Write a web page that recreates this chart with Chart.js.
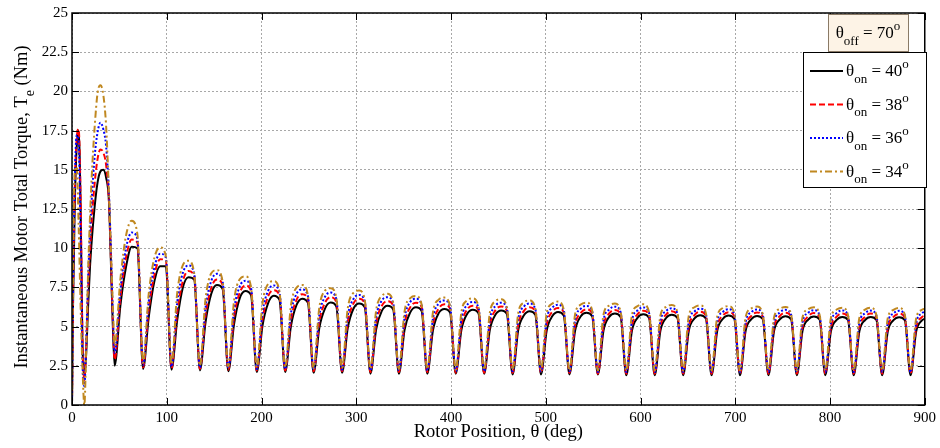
<!DOCTYPE html>
<html>
<head>
<meta charset="utf-8">
<script src="https://cdn.jsdelivr.net/npm/chart.js@4.4.0/dist/chart.umd.min.js"></script>
<style>
  html, body { margin: 0; padding: 0; background: #fff; }
  #wrap { width: 940px; height: 448px; }
</style>
</head>
<body>
<div id="wrap"><canvas id="torqueChart" width="940" height="448"></canvas></div>
<script>
const rotorDeg = [
  0, 1, 3, 5, 7, 9, 11, 13, 15, 17, 19, 21, 24, 27, 30, 33, 36, 39, 41, 43, 45,
  51, 57, 63, 69, 75,   81, 87, 93, 99, 105,   111, 117, 123, 129, 135,
  141, 147, 153, 159, 165,   171, 177, 183, 189, 195,   201, 207, 213, 219, 225,
  231, 237, 243, 249, 255,   261, 267, 273, 279, 285,   291, 297, 303, 309, 315,
  321, 327, 333, 339, 345,   351, 357, 363, 369, 375,   381, 387, 393, 399, 405,
  411, 417, 423, 429, 435,   441, 447, 453, 459, 465,   471, 477, 483, 489, 495,
  501, 507, 513, 519, 525,   531, 537, 543, 549, 555,   561, 567, 573, 579, 585,
  591, 597, 603, 609, 615,   621, 627, 633, 639, 645,   651, 657, 663, 669, 675,
  681, 687, 693, 699, 705,   711, 717, 723, 729, 735,   741, 747, 753, 759, 765,
  771, 777, 783, 789, 795,   801, 807, 813, 819, 825,   831, 837, 843, 849, 855,
  861, 867, 873, 879, 885,   891, 897, 900
];

// theta_on = 40 deg
const torque40 = [
  0, 6, 13, 16.5, 17.5, 13, 4, 2.0, 3.3, 6.3, 8.8, 10.6, 12.7, 14.2, 14.9, 15.0, 14.5, 13.0, 9.2, 5.2, 2.5,
  6.3, 8.8, 10.1, 10.0, 2.3,   5.6, 7.9, 8.85, 8.85, 2.25,   5.4, 7.5, 8.15, 8.0, 2.2,
  5.3, 7.1, 7.65, 7.4, 2.15,   5.14, 6.8, 7.27, 7.0, 2.1,   5.04, 6.5, 6.97, 6.7, 2.1,
  5.0, 6.38, 6.78, 6.52, 2.05,   4.9, 6.15, 6.53, 6.28, 2.05,   4.9, 6.14, 6.48, 6.23, 2.0,
  4.83, 6.0, 6.33, 6.09, 2.0,   4.8, 5.91, 6.23, 6.0, 2.0,   4.78, 5.86, 6.13, 5.9, 2.0,
  4.79, 5.81, 6.08, 5.85, 2.0,   4.8, 5.77, 6.03, 5.8, 1.95,   4.79, 5.72, 5.98, 5.76, 1.95,
  4.75, 5.67, 5.93, 5.71, 1.95,   4.75, 5.66, 5.88, 5.66, 1.95,   4.76, 5.62, 5.83, 5.61, 1.9,
  4.75, 5.57, 5.78, 5.57, 1.9,   4.73, 5.55, 5.76, 5.55, 1.9,   4.75, 5.52, 5.73, 5.52, 1.9,
  4.73, 5.5, 5.7, 5.5, 1.9,   4.75, 5.48, 5.68, 5.48, 1.9,   4.74, 5.46, 5.66, 5.46, 1.9,
  4.73, 5.45, 5.64, 5.45, 1.9,   4.71, 5.43, 5.62, 5.43, 1.9,   4.7, 5.42, 5.61, 5.42, 1.9,
  4.7, 5.41, 5.6, 5.41, 1.9,   4.7, 5.4, 5.5
];

// theta_on = 38 deg
const torque38 = [
  0, 6.5, 14, 17.0, 17.6, 13.5, 4.5, 1.6, 3.8, 7.3, 9.8, 11.9, 14.2, 15.7, 16.3, 16.1, 15.3, 13.0, 9.5, 5.5, 2.9,
  6.8, 9.4, 10.55, 10.35, 2.4,   6.1, 8.3, 9.3, 9.2, 2.35,   5.9, 7.9, 8.55, 8.2, 2.3,
  5.75, 7.48, 8.0, 7.64, 2.25,   5.6, 7.16, 7.62, 7.27, 2.2,   5.44, 6.94, 7.32, 6.99, 2.2,
  5.39, 6.71, 7.07, 6.75, 2.15,   5.29, 6.52, 6.87, 6.57, 2.15,   5.27, 6.47, 6.77, 6.47, 2.1,
  5.19, 6.33, 6.62, 6.33, 2.1,   5.17, 6.24, 6.52, 6.24, 2.1,   5.15, 6.15, 6.42, 6.14, 2.05,
  5.1, 6.09, 6.33, 6.05, 2.05,   5.11, 6.05, 6.28, 6.0, 2.05,   5.12, 6.0, 6.23, 5.96, 2.05,
  5.12, 5.96, 6.18, 5.91, 2.05,   5.1, 5.88, 6.1, 5.83, 2.0,   5.06, 5.84, 6.06, 5.79, 2.0,
  5.03, 5.79, 6.01, 5.75, 2.0,   5.02, 5.76, 5.98, 5.72, 2.0,   5.0, 5.73, 5.95, 5.69, 2.0,
  4.99, 5.71, 5.92, 5.66, 2.0,   4.98, 5.69, 5.9, 5.64, 2.0,   4.97, 5.67, 5.88, 5.63, 2.0,
  4.96, 5.65, 5.86, 5.61, 2.0,   4.95, 5.63, 5.84, 5.59, 2.0,   4.95, 5.62, 5.83, 5.58, 2.0,
  4.94, 5.62, 5.82, 5.58, 2.0,   4.94, 5.6, 5.7
];

// theta_on = 36 deg
const torque36 = [
  0, 7, 14.5, 17.2, 16.8, 11, 3, 1.2, 4, 8, 11, 13.3, 15.9, 17.4, 18.0, 17.6, 16.5, 13.5, 10, 6, 3.3,
  7.3, 10.0, 11.0, 10.6, 2.55,   6.6, 8.8, 9.65, 9.4, 2.45,   6.5, 8.43, 8.9, 8.36, 2.4,
  6.24, 7.92, 8.37, 7.86, 2.35,   6.05, 7.56, 7.92, 7.44, 2.3,   5.88, 7.28, 7.62, 7.17, 2.3,
  5.82, 7.09, 7.37, 6.94, 2.25,   5.72, 6.9, 7.17, 6.75, 2.25,   5.66, 6.76, 7.02, 6.61, 2.2,
  5.58, 6.67, 6.87, 6.48, 2.2,   5.56, 6.57, 6.77, 6.39, 2.2,   5.53, 6.48, 6.67, 6.29, 2.15,
  5.49, 6.38, 6.57, 6.2, 2.15,   5.47, 6.33, 6.52, 6.16, 2.15,   5.5, 6.28, 6.47, 6.11, 2.15,
  5.48, 6.21, 6.39, 6.04, 2.15,   5.43, 6.14, 6.32, 5.97, 2.1,   5.42, 6.09, 6.27, 5.92, 2.1,
  5.39, 6.04, 6.22, 5.88, 2.1,   5.35, 5.99, 6.17, 5.83, 2.1,   5.33, 5.96, 6.14, 5.8, 2.1,
  5.31, 5.94, 6.11, 5.78, 2.1,   5.3, 5.92, 6.09, 5.76, 2.1,   5.28, 5.9, 6.07, 5.74, 2.1,
  5.27, 5.88, 6.05, 5.72, 2.1,   5.25, 5.86, 6.03, 5.7, 2.1,   5.25, 5.85, 6.02, 5.7, 2.1,
  5.24, 5.84, 6.01, 5.69, 2.1,   5.24, 5.85, 5.95
];

// theta_on = 34 deg
const torque34 = [
  0, 8, 14.9, 15.2, 11.5, 6.5, 2.5, 0, 3.5, 8.5, 12.0, 14.8, 17.8, 19.9, 20.4, 19.8, 17.8, 13.5, 10.0, 6.5, 3.8,
  8.0, 10.8, 11.75, 10.9, 2.7,   7.1, 9.4, 10.05, 9.5, 2.6,   7.12, 8.92, 9.2, 8.37, 2.5,
  6.8, 8.4, 8.6, 7.84, 2.45,   6.63, 8.02, 8.2, 7.49, 2.4,   6.45, 7.73, 7.9, 7.23, 2.4,
  6.32, 7.49, 7.65, 7.0, 2.35,   6.21, 7.29, 7.45, 6.83, 2.35,   6.15, 7.15, 7.3, 6.69, 2.3,
  6.03, 6.96, 7.1, 6.52, 2.3,   5.97, 6.82, 6.95, 6.39, 2.3,   5.93, 6.72, 6.85, 6.3, 2.25,
  5.93, 6.67, 6.8, 6.25, 2.25,   5.89, 6.62, 6.75, 6.21, 2.25,   5.87, 6.54, 6.67, 6.14, 2.25,
  5.86, 6.47, 6.6, 6.07, 2.2,   5.79, 6.41, 6.53, 6.01, 2.2,   5.79, 6.35, 6.47, 5.96, 2.2,
  5.75, 6.31, 6.43, 5.92, 2.2,   5.71, 6.26, 6.38, 5.88, 2.2,   5.69, 6.23, 6.35, 5.85, 2.2,
  5.65, 6.19, 6.31, 5.82, 2.2,   5.63, 6.16, 6.28, 5.79, 2.2,   5.6, 6.13, 6.25, 5.77, 2.2,
  5.59, 6.11, 6.23, 5.75, 2.2,   5.57, 6.09, 6.21, 5.73, 2.2,   5.56, 6.08, 6.2, 5.72, 2.2,
  5.55, 6.07, 6.19, 5.72, 2.2,   5.55, 6.07, 6.15
];

const onAngles = ["40", "38", "36", "34"];
const offAngle = "70";
const lineColors = ["#000000", "#ff0000", "#0000ff", "#c08820"];
const lineDashes = [[], [6, 3], [2, 2], [7, 3, 2, 3]];

const serif = '"Liberation Serif", "Times New Roman", serif';

function toPoints(ys) {
  return ys.map((y, i) => ({ x: rotorDeg[i], y: y }));
}

// draws a run of text pieces, some of them sub- or superscript
function richText(ctx, parts, x, y, size, align) {
  const fontOf = p => (p.s ? Math.round(size * 0.75) : size) + "px " + serif;
  let w = 0;
  parts.forEach(p => { ctx.font = fontOf(p); w += ctx.measureText(p.t).width; });
  let cx = align === "center" ? x - w / 2 : x;
  ctx.textAlign = "left";
  ctx.textBaseline = "alphabetic";
  parts.forEach(p => {
    ctx.font = fontOf(p);
    let dy = 0;
    if (p.s === "sub") dy = size * 0.4;
    if (p.s === "sup") dy = -size * 0.45;
    ctx.fillText(p.t, cx, y + dy);
    cx += ctx.measureText(p.t).width;
  });
  return w;
}

const decorations = {
  id: "decorations",
  afterDatasetsDraw(chart) {
    const ctx = chart.ctx;
    const a = chart.chartArea;
    const xs = chart.scales.x, ys = chart.scales.y;
    ctx.save();

    // inward ticks like the original plot
    ctx.strokeStyle = "#000";
    ctx.lineWidth = 1;
    ctx.setLineDash([]);
    ctx.beginPath();
    xs.ticks.forEach(t => {
      const px = Math.round(xs.getPixelForValue(t.value)) + 0.5;
      ctx.moveTo(px, a.bottom); ctx.lineTo(px, a.bottom - 7);
      ctx.moveTo(px, a.top); ctx.lineTo(px, a.top + 7);
    });
    ys.ticks.forEach(t => {
      const py = Math.round(ys.getPixelForValue(t.value)) + 0.5;
      ctx.moveTo(a.left, py); ctx.lineTo(a.left + 7, py);
      ctx.moveTo(a.right, py); ctx.lineTo(a.right - 7, py);
    });
    ctx.stroke();

    // frame
    ctx.lineWidth = 1.5;
    ctx.strokeRect(a.left, a.top, a.right - a.left, a.bottom - a.top);

    // axis titles
    ctx.fillStyle = "#000";
    richText(ctx, [{ t: "Rotor Position, \u03b8 (deg)" }], (a.left + a.right) / 2, 437, 18.5, "center");
    ctx.save();
    ctx.translate(27, 207);
    ctx.rotate(-Math.PI / 2);
    richText(ctx, [
      { t: "Instantaneous Motor Total Torque, T" },
      { t: "e", s: "sub" },
      { t: " (Nm)" }
    ], 0, 0, 18.5, "center");
    ctx.restore();

    // theta_off box
    ctx.fillStyle = "#fdf3e6";
    ctx.fillRect(828, 14, 81, 38);
    ctx.strokeStyle = "#8a7a66";
    ctx.lineWidth = 1;
    ctx.strokeRect(828.5, 14.5, 80, 37);
    ctx.fillStyle = "#000";
    richText(ctx, [
      { t: "\u03b8" }, { t: "off", s: "sub" }, { t: " = " + offAngle }, { t: "o", s: "sup" }
    ], 868, 38, 17, "center");

    // legend
    ctx.fillStyle = "#fff";
    ctx.fillRect(803, 52, 124, 136);
    ctx.strokeStyle = "#000";
    ctx.lineWidth = 1;
    ctx.strokeRect(803.5, 52.5, 123, 135);
    onAngles.forEach((ang, i) => {
      const cy = 70 + i * 33.5;
      ctx.strokeStyle = lineColors[i];
      ctx.lineWidth = 2;
      ctx.setLineDash(lineDashes[i]);
      ctx.beginPath();
      ctx.moveTo(810, cy + 1);
      ctx.lineTo(843, cy + 1);
      ctx.stroke();
      ctx.setLineDash([]);
      ctx.fillStyle = "#000";
      richText(ctx, [
        { t: "\u03b8" }, { t: "on", s: "sub" }, { t: " = " + ang }, { t: "o", s: "sup" }
      ], 846, cy + 6, 17, "left");
    });
    ctx.restore();
  }
};

const datasets = [torque40, torque38, torque36, torque34].map((vals, i) => ({
  label: "\u03b8on = " + onAngles[i] + "\u00b0",
  data: toPoints(vals),
  borderColor: lineColors[i],
  borderDash: lineDashes[i],
  borderWidth: 2,
  pointRadius: 0,
  fill: false,
  cubicInterpolationMode: "monotone",
  order: 3 - i
}));

new Chart(document.getElementById("torqueChart").getContext("2d"), {
  type: "line",
  data: { datasets: datasets },
  options: {
    responsive: false,
    animation: false,
    devicePixelRatio: 1,
    layout: { padding: { top: 13, right: 12, left: 0, bottom: 0 } },
    plugins: { legend: { display: false }, tooltip: { enabled: false } },
    scales: {
      x: {
        type: "linear",
        min: 0,
        max: 900,
        ticks: {
          stepSize: 100,
          padding: 4,
          color: "#000",
          maxRotation: 0,
          font: { family: serif, size: 15 }
        },
        grid: { color: "#a8a8a8", lineWidth: 1, drawTicks: false },
        border: { display: false, dash: [2, 2] },
        afterFit: s => { s.height = 43; }
      },
      y: {
        min: 0,
        max: 25,
        ticks: {
          stepSize: 2.5,
          padding: 4,
          color: "#000",
          font: { family: serif, size: 15 }
        },
        grid: { color: "#a8a8a8", lineWidth: 1, drawTicks: false },
        border: { display: false, dash: [2, 2] },
        afterFit: s => { s.width = 72; }
      }
    }
  },
  plugins: [decorations]
});
</script>
</body>
</html>
